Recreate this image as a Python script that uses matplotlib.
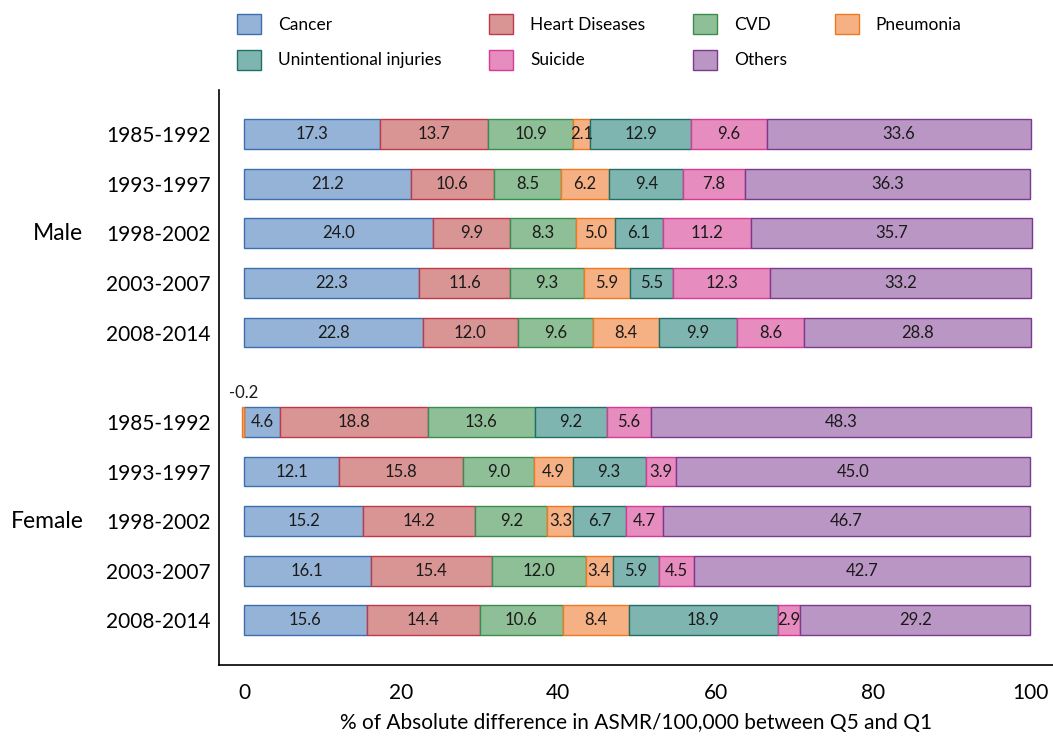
import matplotlib
matplotlib.use('Agg')
import matplotlib.pyplot as plt
import numpy as np

plt.rcParams['font.family'] = ['Lato', 'DejaVu Sans']

causes = ['Cancer', 'Heart Diseases', 'CVD', 'Pneumonia',
          'Unintentional injuries', 'Suicide', 'Others']
face_colors = ['#95B3D7', '#D99594', '#8FBF96', '#F5B183',
               '#7FB5B0', '#E68CBF', '#BA96C4']
edge_colors = ['#3A6FB0', '#C0394A', '#3C8C50', '#F07823',
               '#1F6F66', '#D63C96', '#7A3A8E']

periods = ['1985-1992', '1993-1997', '1998-2002', '2003-2007', '2008-2014']

# columns follow causes order
male = [
    [17.3, 13.7, 10.9, 2.1, 12.9, 9.6, 33.6],
    [21.2, 10.6, 8.5, 6.2, 9.4, 7.8, 36.3],
    [24.0, 9.9, 8.3, 5.0, 6.1, 11.2, 35.7],
    [22.3, 11.6, 9.3, 5.9, 5.5, 12.3, 33.2],
    [22.8, 12.0, 9.6, 8.4, 9.9, 8.6, 28.8],
]
female = [
    [4.6, 18.8, 13.6, -0.2, 9.2, 5.6, 48.3],
    [12.1, 15.8, 9.0, 4.9, 9.3, 3.9, 45.0],
    [15.2, 14.2, 9.2, 3.3, 6.7, 4.7, 46.7],
    [16.1, 15.4, 12.0, 3.4, 5.9, 4.5, 42.7],
    [15.6, 14.4, 10.6, 8.4, 18.9, 2.9, 29.2],
]

vals = np.array(male + female)
ypos = np.concatenate([np.arange(5), np.arange(5) + 5.8])
ylabels = periods + periods

fig = plt.figure(figsize=(10.53, 7.38), dpi=100)
ax = fig.add_axes([219/1053, 1 - 665/738, 1 - 219/1053, (665 - 90)/738])

pos_left = np.zeros(len(ypos))
neg_left = np.zeros(len(ypos))
handles = []
for j, cause in enumerate(causes):
    v = vals[:, j]
    left = np.where(v >= 0, pos_left, neg_left)
    bars = ax.barh(ypos, v, left=left, height=0.6, color=face_colors[j],
                   edgecolor=edge_colors[j], linewidth=1.0, label=cause)
    handles.append(bars)
    for k in range(len(ypos)):
        cx = left[k] + v[k] / 2
        if v[k] < 0:
            ax.text(cx, ypos[k] - 0.42, f'{v[k]:.1f}', ha='center', va='bottom',
                    fontsize=12, color='#1a1a1a')
        else:
            ax.text(cx, ypos[k], f'{v[k]:.1f}', ha='center', va='center',
                    fontsize=12, color='#1a1a1a')
    pos_left = pos_left + np.where(v >= 0, v, 0)
    neg_left = neg_left + np.where(v < 0, v, 0)

ax.set_xlim(-3.18, 102.93)
ax.set_ylim(10.7, -0.89)
ax.set_yticks(ypos)
ax.set_yticklabels(ylabels, fontsize=15)
ax.set_xticks([0, 20, 40, 60, 80, 100])
ax.tick_params(axis='x', length=0, pad=13, labelsize=15)
ax.tick_params(axis='y', length=0, pad=6)
for s in ['top', 'right']:
    ax.spines[s].set_visible(False)
for s in ['left', 'bottom']:
    ax.spines[s].set_linewidth(1.2)
    ax.spines[s].set_color('black')

ax.set_xlabel('% of Absolute difference in ASMR/100,000 between Q5 and Q1', fontsize=15)
ax.xaxis.set_label_coords(0.5, -0.083)

ax.text(-0.193, 2, 'Male', transform=ax.get_yaxis_transform(),
        ha='center', va='center', fontsize=16.5)
ax.text(-0.206, 7.8, 'Female', transform=ax.get_yaxis_transform(),
        ha='center', va='center', fontsize=16.5)

order = [0, 4, 1, 5, 2, 6, 3]
fig.legend([handles[i] for i in order], [causes[i] for i in order],
           loc='upper left', bbox_to_anchor=(237/1053, 1 - 14/738),
           ncol=4, frameon=False, fontsize=12.5, handlelength=1.38,
           handleheight=1.38, handletextpad=0.98, columnspacing=2.75,
           labelspacing=0.92, borderpad=0, borderaxespad=0)

fig.savefig('out.png', dpi=100)
